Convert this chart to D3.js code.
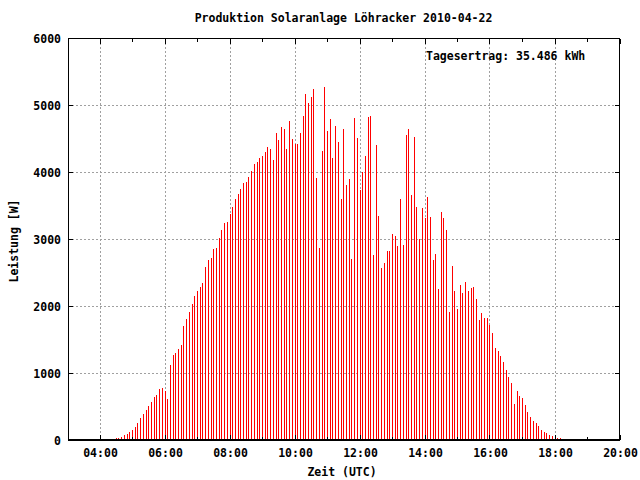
<!DOCTYPE html>
<html><head><meta charset="utf-8">
<script src="https://cdn.jsdelivr.net/npm/d3@7"></script>
<style>
html,body{margin:0;padding:0;background:#fff;}
text{font-family:"DejaVu Sans Mono",monospace;font-weight:bold;font-size:11.5px;fill:#000;}
</style></head>
<body><svg id="c" width="640" height="480"></svg>
<script>
const title = "Produktion Solaranlage Löhracker 2010-04-22";
const xLabel = "Zeit (UTC)";
const yLabel = "Leistung [W]";
const note = "Tagesertrag: 35.486 kWh";
const xTickLabels = ["04:00","06:00","08:00","10:00","12:00","14:00","16:00","18:00","20:00"];
const yTickLabels = ["0","1000","2000","3000","4000","5000","6000"];
const times = [
"04:20","04:25","04:30","04:35","04:40","04:45","04:50","04:55",
"05:00","05:05","05:10","05:15","05:20","05:25","05:30","05:35","05:40","05:45","05:50","05:55",
"06:00","06:05","06:10","06:15","06:20","06:25","06:30","06:35","06:40","06:45","06:50","06:55",
"07:00","07:05","07:10","07:15","07:20","07:25","07:30","07:35","07:40","07:45","07:50","07:55",
"08:00","08:05","08:10","08:15","08:20","08:25","08:30","08:35","08:40","08:45","08:50","08:55",
"09:00","09:05","09:10","09:15","09:20","09:25","09:30","09:35","09:40","09:45","09:50","09:55",
"10:00","10:05","10:10","10:15","10:20","10:25","10:30","10:35","10:40","10:45","10:50","10:55",
"11:00","11:05","11:10","11:15","11:20","11:25","11:30","11:35","11:40","11:45","11:50","11:55",
"12:00","12:05","12:10","12:15","12:20","12:25","12:30","12:35","12:40","12:45","12:50","12:55",
"13:00","13:05","13:10","13:15","13:20","13:25","13:30","13:35","13:40","13:45","13:50","13:55",
"14:00","14:05","14:10","14:15","14:20","14:25","14:30","14:35","14:40","14:45","14:50","14:55",
"15:00","15:05","15:10","15:15","15:20","15:25","15:30","15:35","15:40","15:45","15:50","15:55",
"16:00","16:05","16:10","16:15","16:20","16:25","16:30","16:35","16:40","16:45","16:50","16:55",
"17:00","17:05","17:10","17:15","17:20","17:25","17:30","17:35","17:40","17:45","17:50","17:55",
"18:00","18:05","18:10","18:15"];
const power = [
15,15,30,30,50,75,95,120,150,195,255,330,390,450,510,570,645,675,765,780,735,615,1125,1275,1305,1365,1425,1710,1815,1920,2025,2145,2220,
2286,2346,2585,2689,2719,2854,2868,3018,3137,3242,3257,3376,3481,3601,3675,3750,3840,3855,3929,4019,4123,4153,4213,4243,4303,4377,4347,4183,4587,4482,4676,4646,4347,4766,4497,
4422,4422,4587,4841,5169,5035,5124,5244,3914,2868,4318,5274,4616,4796,4213,4691,4452,3601,4646,3810,3899,2704,4811,4512,3735,4004,4243,4826,4841,2764,4407,3347,2570,2644,2824,
2824,3078,3048,2898,3601,2913,4557,4646,3660,4527,3481,3003,3466,3317,3630,3332,2689,2779,2256,3406,3317,3137,1912,2600,2226,1957,2316,2196,2361,2226,2271,2286,2107,1793,1897,1823,
1823,1718,1599,1374,1330,1255,1165,1046,941,852,538,732,657,627,523,418,344,284,254,209,149,120,105,75,60,60,30,30,15];

const toH = s => { const [h,m] = s.split(":").map(Number); return h + m/60; };
const svg = d3.select("#c");
const L = 68, R = 619.5, T = 38.5, B = 440;
const x = d3.scaleLinear().domain([3,20]).range([67.5,620]);
const y = d3.scaleLinear().domain([0,6000]).range([B,T]);

// grid
const gridX = xTickLabels.map(toH).filter(h => h < 20);
const gridY = yTickLabels.map(Number).filter(v => v > 0 && v < 6000);
const g = svg.append("g").attr("stroke","#a0a0a0").attr("stroke-width",1).attr("stroke-dasharray","2,2").attr("shape-rendering","crispEdges");
g.selectAll("line.gx").data(gridX).join("line").attr("class","gx")
  .attr("x1",d=>Math.floor(x(d))+0.5).attr("x2",d=>Math.floor(x(d))+0.5).attr("y1",T).attr("y2",B);
g.selectAll("line.gy").data(gridY).join("line").attr("class","gy")
  .attr("y1",d=>Math.floor(y(d))+0.5).attr("y2",d=>Math.floor(y(d))+0.5).attr("x1",L).attr("x2",R);

// impulses
const data = times.map((t,i)=>({h:toH(t), v:power[i]}));
svg.append("g").attr("stroke","#ff0000").attr("stroke-width",1).attr("shape-rendering","crispEdges")
  .selectAll("line").data(data).join("line")
  .attr("x1",d=>Math.floor(x(d.h))+0.5).attr("x2",d=>Math.floor(x(d.h))+0.5)
  .attr("y1",y(0)).attr("y2",d=>y(d.v));

// border
svg.append("rect").attr("x",68.5).attr("y",38.5).attr("width",619.5-68.5).attr("height",B-38.5)
  .attr("fill","none").attr("stroke","#000").attr("stroke-width",1).attr("shape-rendering","crispEdges");
svg.append("line").attr("x1",68).attr("x2",620).attr("y1",440).attr("y2",440).attr("stroke","#000").attr("stroke-width",2);

// axes ticks via d3 axes
const majorX = xTickLabels.map(toH);
const minorX = d3.range(4,20,1).filter(h => !majorX.includes(h));
const tk = svg.append("g").attr("stroke","#000").attr("stroke-width",1).attr("shape-rendering","crispEdges");
majorX.concat(minorX).forEach(h=>{
  const len = majorX.includes(h) ? 5 : 3;
  const px = Math.floor(x(h))+0.5;
  tk.append("line").attr("x1",px).attr("x2",px).attr("y1",B).attr("y2",B-len);
  tk.append("line").attr("x1",px).attr("x2",px).attr("y1",T).attr("y2",T+len);
});
yTickLabels.map(Number).forEach(v=>{
  const py = Math.floor(y(v))+0.5;
  tk.append("line").attr("x1",L).attr("x2",L+5).attr("y1",py).attr("y2",py);
  tk.append("line").attr("x1",R).attr("x2",R-5).attr("y1",py).attr("y2",py);
});

// axis labels with d3 axis generators (text only)
const xAxis = d3.axisBottom(x).tickValues(majorX).tickFormat((d,i)=>xTickLabels[i]).tickSize(0).tickPadding(0);
const xa = svg.append("g").attr("transform","translate(0,449)").call(xAxis);
xa.select(".domain").remove();
xa.selectAll("text").attr("dy","0.71em").attr("font-size",null).attr("font-family",null);

const yAxis = d3.axisLeft(y).tickValues(yTickLabels.map(Number)).tickFormat((d,i)=>yTickLabels[i]).tickSize(0).tickPadding(0);
const ya = svg.append("g").attr("transform","translate(61,0)").call(yAxis);
ya.select(".domain").remove();
ya.selectAll("text").attr("dy","0.36em").attr("font-size",null).attr("font-family",null);
svg.selectAll(".tick text").style("font-family","'DejaVu Sans Mono',monospace").style("font-size","11.5px").style("font-weight","bold");

svg.append("text").attr("x",343.5).attr("y",22).attr("text-anchor","middle").text(title);
svg.append("text").attr("x",342).attr("y",476).attr("text-anchor","middle").text(xLabel);
svg.append("text").attr("transform","translate(18,241) rotate(-90)").attr("text-anchor","middle").text(yLabel);
svg.append("text").attr("x",426).attr("y",60).text(note);
</script></body></html>
